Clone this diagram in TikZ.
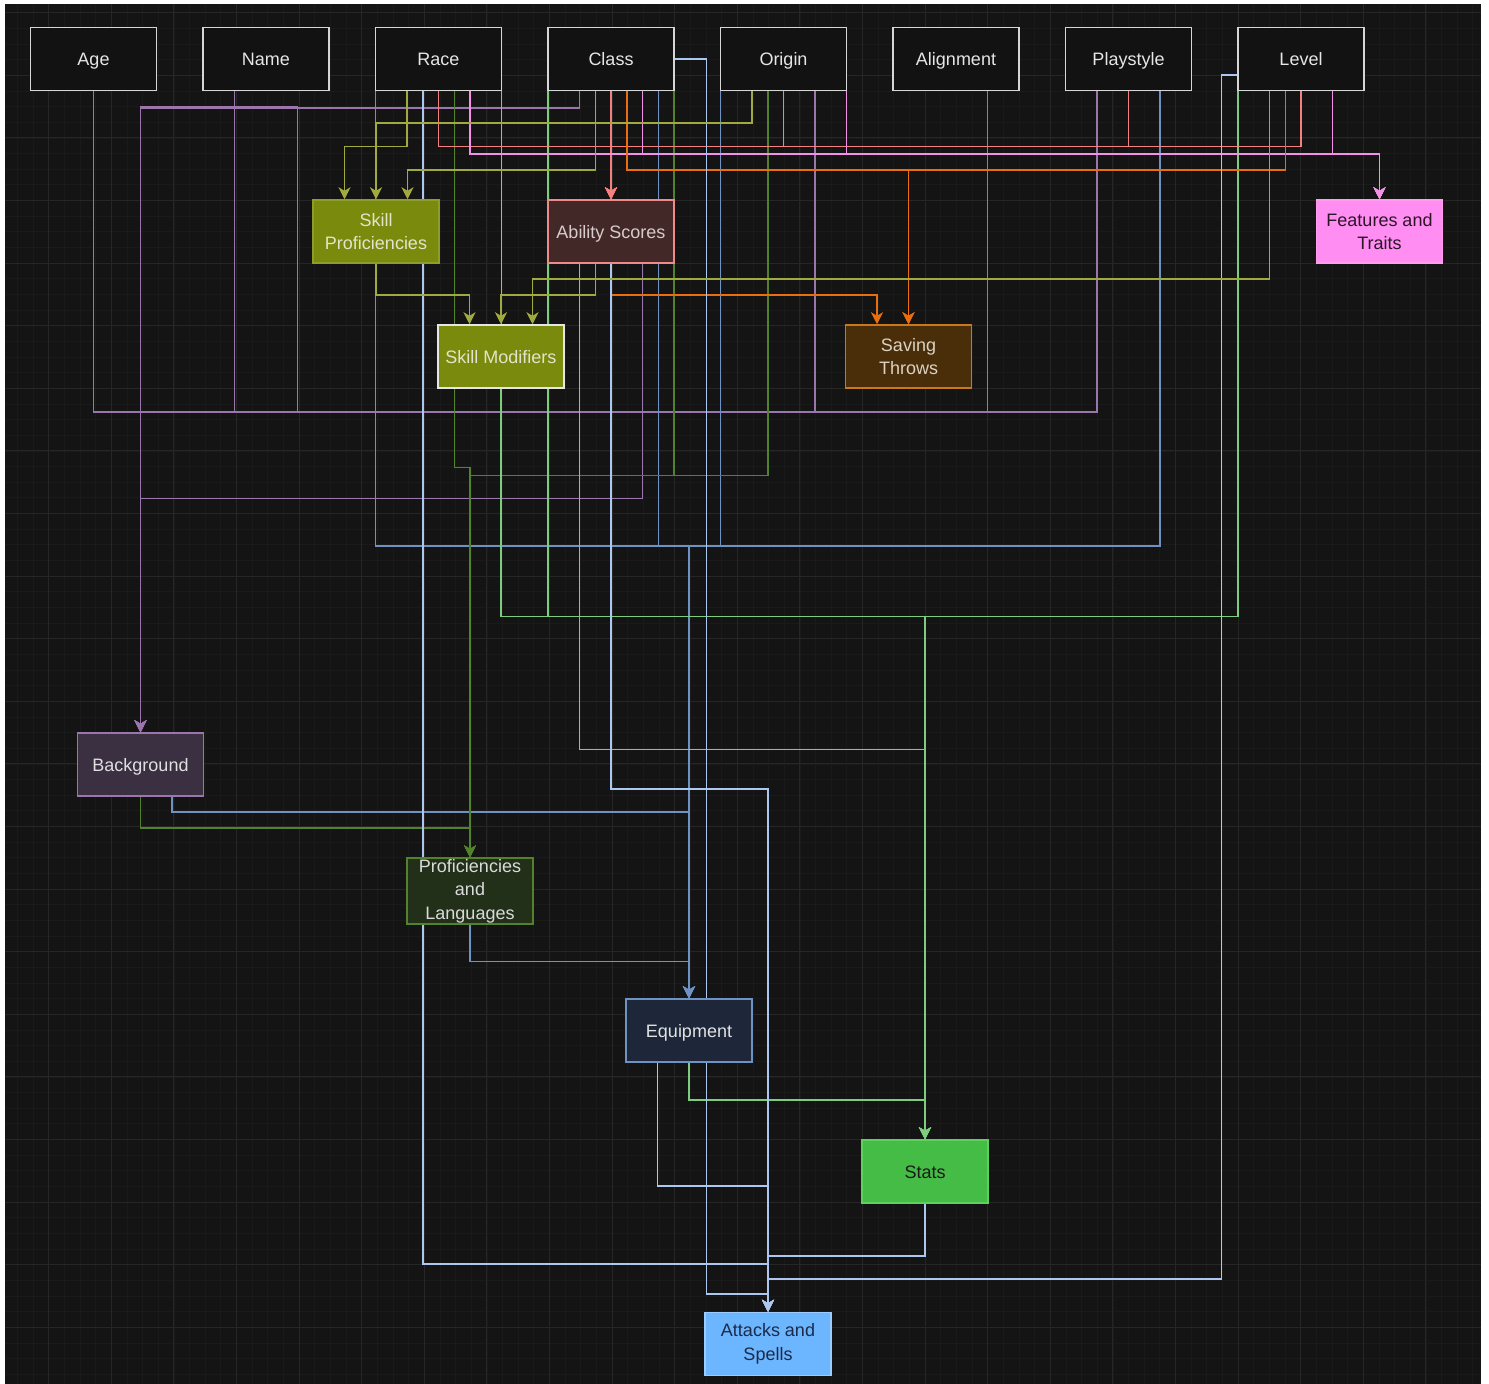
\documentclass[tikz,border=0pt]{standalone}
\usepackage{fontspec}
\setmainfont{Liberation Sans}
\usetikzlibrary{positioning,arrows.meta}

\definecolor{canvas}{HTML}{141414}
\definecolor{gridmin}{HTML}{1A1A1A}
\definecolor{gridmaj}{HTML}{262626}
\definecolor{topline}{HTML}{D6D6D6}
\definecolor{topfill}{HTML}{121212}
\definecolor{toptext}{HTML}{E6E6E6}
% box colours
\definecolor{olvline}{HTML}{8D9C2A}
\definecolor{olvfill}{HTML}{7A8A0C}
\definecolor{olvtext}{HTML}{E3E4CC}
\definecolor{modline}{HTML}{E6E6E6}
\definecolor{ablline}{HTML}{EE8A8A}
\definecolor{ablfill}{HTML}{432828}
\definecolor{abltext}{HTML}{D6CCCC}
\definecolor{featline}{HTML}{FF9CF0}
\definecolor{featfill}{HTML}{FF8DF2}
\definecolor{feattext}{HTML}{2B1626}
\definecolor{saveline}{HTML}{C9781F}
\definecolor{savefill}{HTML}{4A2E0A}
\definecolor{savetext}{HTML}{DCD2C2}
\definecolor{bgfill}{HTML}{3B2F42}
\definecolor{bgtext}{HTML}{E0E0E0}
\definecolor{proffill}{HTML}{22301A}
\definecolor{proftext}{HTML}{DADADA}
\definecolor{eqfill}{HTML}{1D2739}
\definecolor{eqtext}{HTML}{E2E2E2}
\definecolor{statline}{HTML}{5ED05E}
\definecolor{statfill}{HTML}{45BC45}
\definecolor{stattext}{HTML}{1A1A1A}
\definecolor{atkline}{HTML}{9CCBFF}
\definecolor{atkfill}{HTML}{6CB5FF}
\definecolor{atktext}{HTML}{1C2A48}
% connector colours
\definecolor{cpur}{HTML}{9A76AC}
\definecolor{colv}{HTML}{A0AA40}
\definecolor{csal}{HTML}{F4817F}
\definecolor{cpnk}{HTML}{F590E8}
\definecolor{corg}{HTML}{E86E10}
\definecolor{cdgr}{HTML}{52822C}
\definecolor{cgrn}{HTML}{7ECC7E}
\definecolor{cblu}{HTML}{6F92C4}
\definecolor{clbl}{HTML}{ADC8F0}

\pgfdeclarelayer{grid}
\pgfdeclarelayer{wires}
\pgfsetlayers{grid,wires,main}

\tikzset{
  card/.style n args={3}{draw=#1, fill=#2, text=#3, line width=1.5pt,
    minimum width=126pt, minimum height=63pt, inner sep=1pt, align=center,
    font=\fontsize{18}{23.5}\selectfont},
  one/.style={text height=13pt, text depth=0pt},
  field/.style={card={topline}{topfill}{toptext}, one},
  wire/.style={line width=1.5pt},
  into/.style={-{Stealth[length=12pt,width=12pt,inset=3.5pt]}},
}
\newcommand{\fnode}[3]{\node [field] (#1) at (#2) {#3}}

\begin{document}
\begin{tikzpicture}[x=1pt,y=-1pt]
\useasboundingbox (0,0) rectangle (1489,1384);

% canvas and grid
\begin{pgfonlayer}{grid}
\fill[canvas] (5,4) rectangle (1481,1384);
\begin{scope}
\clip (5,4) rectangle (1481,1384);
\foreach \x in {1.75,17.4,...,1490} \draw[gridmin, line width=0.8pt] (\x,4) -- (\x,1384);
\foreach \y in {-2.95,12.7,...,1390} \draw[gridmin, line width=0.8pt] (5,\y) -- (1481,\y);
\foreach \x in {48.7,111.3,...,1490} \draw[gridmaj, line width=1pt] (\x,4) -- (\x,1384);
\foreach \y in {12.7,75.3,...,1390} \draw[gridmaj, line width=1pt] (5,\y) -- (1481,\y);
\end{scope}
\end{pgfonlayer}

% character fields
\fnode{age}{93.5,59}{Age};
\fnode{nm}{266,59}{Name};
\fnode{race}{438.5,59}{Race};
\fnode{cls}{611,59}{Class};
\fnode{orig}{783.5,59}{Origin};
\fnode{align}{956,59}{Alignment};
\fnode{play}{1128.5,59}{Playstyle};
\fnode{lvl}{1301,59}{Level};

% derived blocks
\node [card={olvline}{olvfill}{olvtext}] (skp) at (376,231.5) {Skill\\Proficiencies};
\node [card={ablline}{ablfill}{abltext}, one] (abil) at (611,231.5) {Ability Scores};
\node [card={featline}{featfill}{feattext}] (feat) at (1379.5,231.5) {Features and\\Traits};
\node [card={modline}{olvfill}{olvtext}, one] (skm) at (501,356.5) {Skill Modifiers};
\node [card={saveline}{savefill}{savetext}] (save) at (908.5,356.5) {Saving\\Throws};
\node [card={cpur}{bgfill}{bgtext}, one] (bg) at (140.5,764.5) {Background};
\node [card={cdgr}{proffill}{proftext}] (prof) at (470,891) {Proficiencies\\and\\Languages};
\node [card={cblu}{eqfill}{eqtext}, one] (equip) at (689,1030.5) {Equipment};
\node [card={statline}{statfill}{stattext}, one] (stats) at (925,1171.5) {Stats};
\node [card={atkline}{atkfill}{atktext}] (atk) at (768,1344) {Attacks and\\Spells};

\begin{pgfonlayer}{wires}
% to background
\draw[wire,cpur,into] (age.south) |- (297.5,412) -- (297.5,107) -| (bg.north);
\draw[wire,cpur,into] ([xshift=-31.5pt]nm.south) |- (297.5,412) -- (297.5,107) -| (bg.north);
\draw[wire,cpur,into] ([xshift=31.5pt]orig.south) |- (297.5,412) -- (297.5,107) -| (bg.north);
\draw[wire,cpur,into] ([xshift=31.5pt]align.south) |- (297.5,412) -- (297.5,107) -| (bg.north);
\draw[wire,cpur,into] ([xshift=-31.5pt]play.south) |- (297.5,412) -- (297.5,107) -| (bg.north);
\draw[wire,cpur,into] ([xshift=-31.5pt]cls.south) -- ++(0,16.5) -| (bg.north);
\draw[wire,cpur,into] ([xshift=31.5pt]abil.south) -- ++(0,234.5) -| (bg.north);

% to equipment
\draw[wire,cblu,into] ([xshift=-63pt]race.south) -- ++(0,454.5) -| (equip.north);
\draw[wire,cblu,into] ([xshift=47.25pt]cls.south) -- ++(0,454.5) -| (equip.north);
\draw[wire,cblu,into] ([xshift=-63pt]orig.south) -- ++(0,454.5) -| (equip.north);
\draw[wire,cblu,into] ([xshift=31.5pt]play.south) -- ++(0,454.5) -| (equip.north);
\draw[wire,cblu,into] ([xshift=31.5pt]bg.south) -- ++(0,15) -| (equip.north);
\draw[wire,cblu,into] (prof.south) -- ++(0,37) -| (equip.north);

% to proficiencies and languages
\draw[wire,cdgr,into] ([xshift=15.75pt]race.south) -- ++(0,376) -| (prof.north);
\draw[wire,cdgr,into] ([xshift=63pt]cls.south) -- ++(0,384) -| (prof.north);
\draw[wire,cdgr,into] ([xshift=-15.75pt]orig.south) -- ++(0,384) -| (prof.north);
\draw[wire,cdgr,into] (bg.south) -- ++(0,31) -| (prof.north);

% to stats
\draw[wire,cgrn,into] ([xshift=63pt]race.south) -- ++(0,525) -| (stats.north);
\draw[wire,cgrn,into] ([xshift=-63pt]cls.south) -- ++(0,525) -| (stats.north);
\draw[wire,cgrn,into] (skm.south) -- ++(0,227.5) -| (stats.north);
\draw[wire,cgrn,into] ([xshift=-63pt]lvl.south) -- ++(0,525) -| (stats.north);
\draw[wire,cgrn,into] ([xshift=-31.5pt]abil.south) -- ++(0,485.5) -| (stats.north);
\draw[wire,cgrn,into] (equip.south) -- ++(0,37) -| (stats.north);

% to ability scores
\draw[wire,csal,into] (cls.south) -- (abil.north);
\draw[wire,csal,into] (race.south) -- ++(0,55) -| (abil.north);
\draw[wire,csal,into] (orig.south) -- ++(0,55) -| (abil.north);
\draw[wire,csal,into] (play.south) -- ++(0,55) -| (abil.north);
\draw[wire,csal,into] (lvl.south) -- ++(0,55) -| (abil.north);

% to features and traits
\draw[wire,cpnk,into] ([xshift=31.5pt]race.south) -- ++(0,62.5) -| (feat.north);
\draw[wire,cpnk,into] ([xshift=31.5pt]cls.south) -- ++(0,62.5) -| (feat.north);
\draw[wire,cpnk,into] ([xshift=63pt]orig.south) -- ++(0,62.5) -| (feat.north);
\draw[wire,cpnk,into] ([xshift=31.5pt]lvl.south) -- ++(0,62.5) -| (feat.north);

% to saving throws
\draw[wire,corg,into] ([xshift=15.75pt]cls.south) -- ++(0,78.5) -| (save.north);
\draw[wire,corg,into] ([xshift=-15.75pt]lvl.south) -- ++(0,78.5) -| (save.north);
\draw[wire,corg,into] (abil.south) -- ++(0,31) -| ([xshift=-31.5pt]save.north);

% to attacks and spells
\draw[wire,clbl,into] ([xshift=-15.75pt]race.south) -- ++(0,1172.5) -| (atk.north);
\draw[wire,clbl,into] (cls.east) -- ++(31.5,0) -- ++(0,1235) -| (atk.north);
\draw[wire,clbl,into] (abil.south) -- ++(0,525) -| (atk.north);
\draw[wire,clbl,into] ([xshift=-31.5pt]equip.south) -- ++(0,123) -| (atk.north);
\draw[wire,clbl,into] (stats.south) -- ++(0,52) -| (atk.north);
\draw[wire,clbl,into] ([yshift=-15.75pt]lvl.west) -- ++(-15.75,0) -- ++(0,1204) -| (atk.north);

% to skill proficiencies and skill modifiers
\draw[wire,colv,into] ([xshift=-31.5pt]race.south) -- ++(0,55) -| ([xshift=-31.5pt]skp.north);
\draw[wire,colv,into] ([xshift=-31.5pt]orig.south) -- ++(0,31.5) -| (skp.north);
\draw[wire,colv,into] ([xshift=-15.75pt]cls.south) -- ++(0,78.5) -| ([xshift=31.5pt]skp.north);
\draw[wire,colv,into] (skp.south) -- ++(0,31) -| ([xshift=-31.5pt]skm.north);
\draw[wire,colv,into] ([xshift=-15.75pt]abil.south) -- ++(0,31) -| (skm.north);
\draw[wire,colv,into] ([xshift=-31.5pt]lvl.south) -- ++(0,187.5) -| ([xshift=31.5pt]skm.north);
\end{pgfonlayer}

\end{tikzpicture}
\end{document}
